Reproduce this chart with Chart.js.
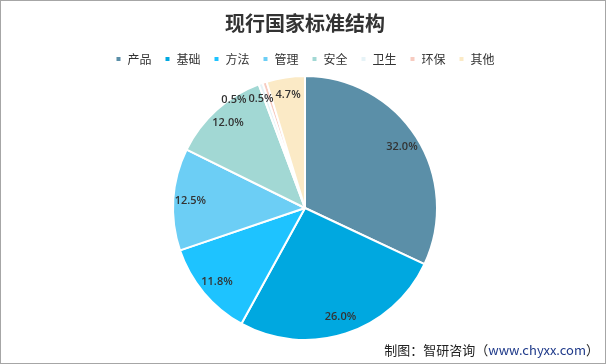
<!DOCTYPE html>
<html>
<head>
<meta charset="utf-8">
<script src="https://cdn.jsdelivr.net/npm/chart.js@4/dist/chart.umd.min.js"></script>
<style>
    html, body { margin: 0; padding: 0; background: #fff; }
    #wrap {
        position: relative;
        width: 606px;
        height: 364px;
        box-sizing: border-box;
        border: 1px solid #a6a6a6;
    }
    #chart { position: absolute; left: 0; top: 0; }
    #source {
        position: absolute;
        right: 6px;
        bottom: 4px;
        font: 13px "Noto Sans CJK SC", sans-serif;
        color: #222;
    }
    #source span { color: #1f3a8a; }
</style>
</head>
<body>
<div id="wrap">
    <canvas id="chart" width="604" height="362"></canvas>
    <div id="source">制图：智研咨询（<span>www.chyxx.com</span>）</div>
</div>
<script>
// Chart data
const categories = ['产品', '基础', '方法', '管理', '安全', '卫生', '环保', '其他'];
const shares     = [32.0, 26.0, 11.8, 12.5, 12.0, 0.5, 0.5, 4.7];
const colors     = ['#5b8fa8', '#00a8e0', '#1ec3ff', '#6ccef5', '#a2d8d4', '#e6f3f7', '#f7cbc0', '#fbeac6'];

// Percent labels inside the slices
const sliceLabels = {
    id: 'sliceLabels',
    afterDatasetsDraw( chart )
    {
        const ctx  = chart.ctx;
        const arcs = chart.getDatasetMeta(0).data;
        ctx.save();
        ctx.font = '600 11px "Open Sans", sans-serif';
        ctx.fillStyle = '#333';
        ctx.textAlign = 'center';
        ctx.textBaseline = 'middle';

        let placed = [];
        for ( let i = arcs.length - 1; i >= 0; i-- )
        {
            const p   = arcs[i].getProps(['x', 'y', 'startAngle', 'endAngle', 'outerRadius'], true);
            const mid = ( p.startAngle + p.endAngle ) / 2;
            const r   = p.outerRadius * 0.87;
            const txt = shares[i].toFixed(1) + '%';
            const w   = ctx.measureText(txt).width;
            let x = p.x + Math.cos(mid) * r;
            let y = p.y + Math.sin(mid) * r;

            // push left if it runs into the label drawn before it
            placed.forEach( b => {
                if ( Math.abs(y - b.y) < 12 && x + w / 2 > b.x - b.w / 2 - 2 && x - w / 2 < b.x + b.w / 2 )
                    x = b.x - b.w / 2 - 2 - w / 2;
            });
            placed.push({ x: x, y: y, w: w });
            ctx.fillText(txt, x, y);
        }
        ctx.restore();
    }
};

const ctx = document.getElementById('chart');

new Chart(ctx, {
    type: 'pie',
    data: {
        labels: categories,
        datasets: [{
            data: shares,
            backgroundColor: colors,
            borderColor: '#fff',
            borderWidth: 2
        }]
    },
    options: {
        responsive: false,
        animation: false,
        layout: { padding: { top: 0, bottom: 22, left: 4, right: 0 } },
        plugins: {
            title: {
                display: true,
                text: '现行国家标准结构',
                color: '#333',
                font: { size: 20, weight: 'bold', family: '"Noto Sans CJK SC", sans-serif' },
                padding: { top: 10, bottom: 5 }
            },
            legend: {
                position: 'top',
                labels: {
                    usePointStyle: true,
                    pointStyle: 'rect',
                    boxWidth: 6,
                    boxHeight: 6,
                    padding: 13,
                    color: '#333',
                    font: { size: 12, family: '"Noto Sans CJK SC", sans-serif' }
                }
            },
            tooltip: { enabled: false }
        }
    },
    plugins: [sliceLabels]
});
</script>
</body>
</html>
